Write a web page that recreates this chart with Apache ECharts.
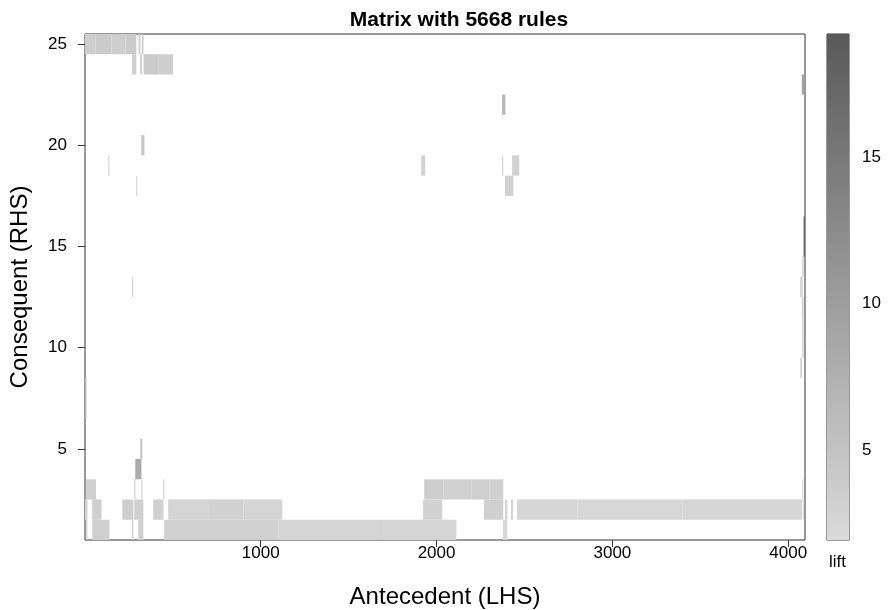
<!DOCTYPE html>
<html>
<head>
<meta charset="utf-8">
<title>Matrix with 5668 rules</title>
<script src="https://cdn.jsdelivr.net/npm/echarts@6/dist/echarts.min.js"></script>
<style>
  html, body { margin: 0; padding: 0; background: #fff; }
  #matrix { width: 896px; height: 610px; }
</style>
</head>
<body>
<div id="matrix"></div>
<script>
// runs of antecedents (LHS index from..to) per consequent, with their lift
// [from, to, lift]
var rhs1 = [[8, 14, 3.0], [42, 139, 3.3], [268, 275, 3.2], [304, 332, 3.2], [451, 1100, 3.1],
            [1101, 1700, 2.7], [1701, 2112, 2.8], [2379, 2402, 2.5]];
var rhs2 = [[1, 14, 3.0], [42, 94, 3.4], [213, 275, 3.5], [281, 332, 3.4], [389, 446, 3.3],
            [474, 700, 2.8], [701, 900, 3.0], [901, 1122, 2.8], [1924, 2032, 3.0], [2270, 2379, 3.3],
            [2390, 2402, 2.8], [2424, 2435, 2.8], [2458, 2800, 2.5], [2801, 3400, 2.4],
            [3401, 4078, 2.5], [4084, 4090, 2.4]];
var rhs3 = [[8, 63, 3.4], [281, 287, 3.0], [321, 327, 3.0], [446, 451, 3.0], [1930, 2040, 3.6],
            [2041, 2200, 3.2], [2201, 2300, 3.4], [2301, 2379, 3.1], [4080, 4086, 2.5]];
var rhs4 = [[287, 321, 8.2]];
var rhs5 = [[315, 326, 4.6]];
var rhs7 = [[1, 8, 7.0]];
var rhs8 = [[1, 8, 7.0]];
var rhs9 = [[4068, 4078, 2.6]];
var rhs10 = [[4080, 4088, 2.6]];
var rhs11 = [[4080, 4088, 2.6]];
var rhs12 = [[4078, 4088, 2.6]];
var rhs13 = [[268, 272, 2.7], [4068, 4082, 2.6]];
var rhs14 = [[4080, 4088, 2.8]];
var rhs15 = [[4088, 4094, 18.5]];
var rhs16 = [[4088, 4094, 18.5]];
var rhs18 = [[292, 296, 2.5], [2390, 2436, 3.2]];
var rhs19 = [[133, 137, 2.6], [1913, 1935, 3.2], [2373, 2377, 2.8], [2430, 2470, 3.0]];
var rhs20 = [[321, 338, 4.6]];
var rhs22 = [[2373, 2391, 6.5]];
var rhs23 = [[4078, 4092, 9.5]];
var rhs24 = [[268, 292, 3.4], [315, 324, 3.8], [334, 420, 3.9], [421, 501, 3.6]];
var rhs25 = [[1, 60, 3.5], [61, 150, 3.9], [151, 230, 3.6], [231, 292, 4.0], [305, 315, 3.4], [324, 333, 3.6]];

var byRhs = [[1, rhs1], [2, rhs2], [3, rhs3], [4, rhs4], [5, rhs5], [7, rhs7], [8, rhs8],
             [9, rhs9], [10, rhs10], [11, rhs11], [12, rhs12], [13, rhs13], [14, rhs14],
             [15, rhs15], [16, rhs16], [18, rhs18], [19, rhs19], [20, rhs20], [22, rhs22],
             [23, rhs23], [24, rhs24], [25, rhs25]];

var lhsCount = 4095;
var rhsCount = 25;
var xTicks = [1000, 2000, 3000, 4000];
var yTicks = [5, 10, 15, 20, 25];
var liftTicks = [5, 10, 15];
var liftMin = 1.94;
var liftMax = 19.2;

var cells = [];
byRhs.forEach(function (r) {
  r[1].forEach(function (s) {
    cells.push([s[0] - 0.5, s[1] + 0.5, r[0], s[2]]);
  });
});

var font = 'Liberation Sans, Arial, Helvetica, sans-serif';
var lightGray = '#dadada';
var darkGray = '#595959';

function plain(v) {
  return String(v);
}

function drawRun(params, api) {
  var a = api.coord([api.value(0), api.value(2) + 0.5]);
  var b = api.coord([api.value(1), api.value(2) - 0.5]);
  var shape = echarts.graphic.clipRectByRect(
    { x: a[0], y: a[1], width: Math.max(b[0] - a[0], 1.2), height: b[1] - a[1] },
    { x: params.coordSys.x, y: params.coordSys.y, width: params.coordSys.width, height: params.coordSys.height }
  );
  return shape && { type: 'rect', shape: shape, style: { fill: api.visual('color') } };
}

function drawKey(params, api) {
  var a = api.coord([0, api.value(1)]);
  var b = api.coord([1, api.value(0)]);
  return {
    type: 'rect',
    shape: { x: a[0], y: a[1], width: b[0] - a[0], height: b[1] - a[1] },
    style: {
      fill: new echarts.graphic.LinearGradient(0, 0, 0, 1, [
        { offset: 0, color: darkGray },
        { offset: 1, color: lightGray }
      ])
    }
  };
}

var chart = echarts.init(document.getElementById('matrix'));
var option = {
  animation: false,
  title: {
    text: 'Matrix with 5668 rules',
    left: 454,
    textAlign: 'center',
    top: 5,
    textStyle: { fontFamily: font, fontSize: 21, fontWeight: 'bold', color: '#000' }
  },
  grid: [
    { left: 85, top: 34, width: 720, height: 506, show: true, borderColor: '#333', borderWidth: 1, outerBoundsMode: 'none' },
    { left: 827, top: 34, width: 22, height: 506, show: true, borderColor: '#333', borderWidth: 1, outerBoundsMode: 'none' }
  ],
  xAxis: [
    {
      type: 'value', gridIndex: 0, min: 0.5, max: lhsCount + 0.5,
      name: 'Antecedent (LHS)', nameLocation: 'middle', nameGap: 45,
      nameTextStyle: { fontFamily: font, fontSize: 24, color: '#000' },
      axisLine: { show: false },
      splitLine: { show: false },
      axisTick: { show: true, length: 7, customValues: xTicks, lineStyle: { color: '#333' } },
      axisLabel: { customValues: xTicks, formatter: plain, margin: 5, fontFamily: font, fontSize: 17, color: '#000' }
    },
    { type: 'value', gridIndex: 1, min: 0, max: 1, show: false }
  ],
  yAxis: [
    {
      type: 'value', gridIndex: 0, min: 0.5, max: rhsCount + 0.5,
      name: 'Consequent (RHS)', nameLocation: 'middle', nameGap: 53,
      nameTextStyle: { fontFamily: font, fontSize: 24, color: '#000' },
      axisLine: { show: false },
      splitLine: { show: false },
      axisTick: { show: true, length: 7, customValues: yTicks, lineStyle: { color: '#333' } },
      axisLabel: { customValues: yTicks, formatter: plain, margin: 18, fontFamily: font, fontSize: 17, color: '#000' }
    },
    {
      type: 'value', gridIndex: 1, position: 'right', min: liftMin, max: liftMax,
      axisLine: { show: false },
      splitLine: { show: false },
      axisTick: { show: true, length: 7, customValues: liftTicks, lineStyle: { color: '#333' } },
      axisLabel: { customValues: liftTicks, formatter: plain, margin: 13, fontFamily: font, fontSize: 17, color: '#000' }
    }
  ],
  visualMap: {
    type: 'continuous', show: false, seriesIndex: 0, dimension: 3,
    min: liftMin, max: liftMax,
    inRange: { color: [lightGray, darkGray] }
  },
  graphic: [
    {
      type: 'text', left: 829, top: 554,
      style: { text: 'lift', font: '17px ' + font, fill: '#000' }
    }
  ],
  series: [
    {
      type: 'custom', xAxisIndex: 0, yAxisIndex: 0,
      renderItem: drawRun,
      encode: { x: [0, 1], y: 2 },
      data: cells
    },
    {
      type: 'custom', xAxisIndex: 1, yAxisIndex: 1,
      renderItem: drawKey,
      encode: { y: [0, 1] },
      data: [[liftMin, liftMax]],
      silent: true
    }
  ]
};
option && chart.setOption(option);
</script>
</body>
</html>
